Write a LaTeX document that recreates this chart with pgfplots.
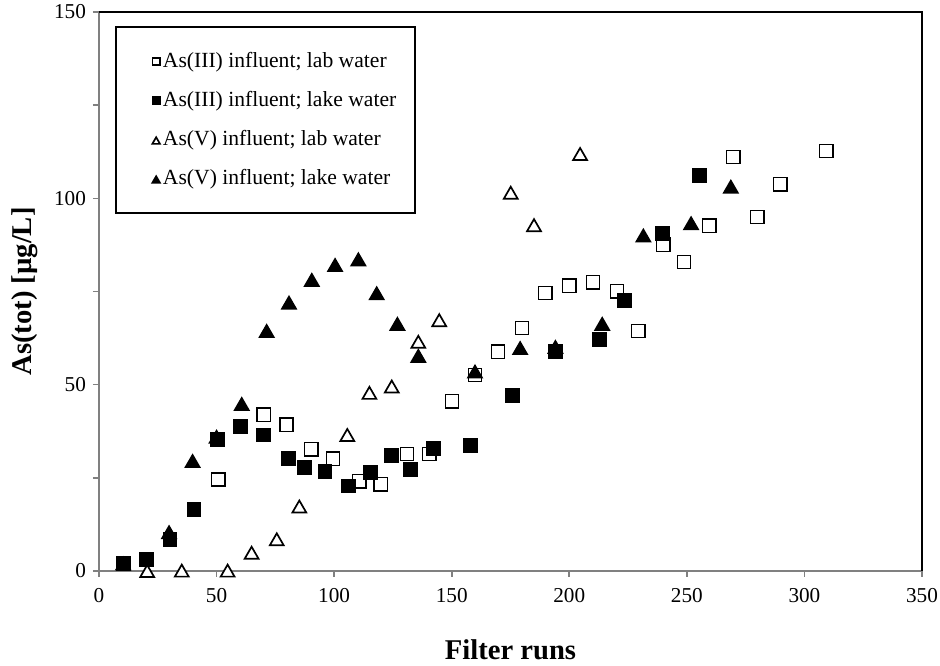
\documentclass[border=0pt]{standalone}
\usepackage{fontspec}
\setmainfont{Liberation Serif}
\usepackage{pgfplots}
\pgfplotsset{compat=1.18}
\begin{document}
\begin{tikzpicture}
\begin{axis}[
  scale only axis, width=411.5pt, height=279.5pt,
  xmin=0, xmax=350, ymin=0, ymax=150,
  xtick={0,50,...,350}, ytick={0,50,100,150},
  minor ytick={25,75,125},
  axis x line*=bottom, axis y line*=left,
  axis line style={draw=gray, line width=1.1pt},
  tick align=outside,
  major tick length=3pt, minor tick length=3pt,
  every tick/.style={draw=gray, line width=0.8pt},
  /pgf/number format/assume math mode=true,
  ticklabel style={font=\fontsize{10.6}{12}\selectfont},
  xticklabel style={yshift=-2pt},
  xlabel={Filter runs},
  ylabel={As(tot) [µg/L]},
  x label style={font=\fontsize{14.3}{16}\selectfont\bfseries, at={(axis description cs:0.5,0)}, anchor=center, yshift=-39.5pt},
  y label style={font=\fontsize{14.3}{16}\selectfont\bfseries, at={(axis description cs:-0.0899,0.5)}, anchor=center},
  clip=false,
  legend cell align=left,
  legend image code/.code={\path[draw=none,fill=none] (0pt,0pt) -- (12pt,0pt); \draw[#1] plot coordinates {(10.5pt,0pt)};},
  legend style={at={(rel axis cs:0.0194,0.975)}, anchor=north west, draw=black, line width=1.2pt,
    inner xsep=9.5pt, inner ysep=12pt, row sep=9pt, column sep=1.5pt,
    font=\fontsize{10.8}{12}\selectfont,
    nodes={inner sep=0pt, text height=8pt, text depth=2.5pt}},
]
\addplot[only marks, mark=square*, mark size=3.3pt, mark options={draw=black, fill=white, line width=0.85pt}, legend image post style={mark size=1.8pt}] coordinates {
(50.7,24.6) (70.1,41.9) (79.8,39.2) (90.2,32.7) (99.5,30.1) (110.6,24.1) (119.9,23.3) (131.0,31.4) (140.4,31.4) (150.1,45.6) (159.9,52.6) (169.7,58.8) (179.9,65.2) (189.7,74.6) (199.9,76.5) (210.1,77.5) (220.3,75.1) (229.3,64.4) (239.9,87.5) (248.8,82.9) (259.5,92.6) (269.7,111.1) (279.9,95.0) (289.7,103.8) (309.2,112.7)
};
\addlegendentry{As(III) influent; lab water}
\addplot[only marks, mark=square*, mark size=3.3pt, mark options={draw=black, fill=black, line width=0.85pt}, legend image post style={mark size=1.9pt}] coordinates {
(10.3,1.9) (20.3,3.1) (30.2,8.5) (40.4,16.6) (50.5,35.3) (60.0,38.7) (69.9,36.5) (80.5,30.1) (87.4,27.7) (96.1,26.6) (106,22.8) (115.3,26.4) (124.5,31.1) (132.3,27.3) (142.2,32.9) (157.8,33.6) (175.8,47.0) (194.1,58.9) (212.7,62.2) (223.4,72.7) (239.8,90.6) (255.2,106.2)
};
\addlegendentry{As(III) influent; lake water}
\addplot[only marks, mark=triangle*, mark size=4pt, mark options={draw=black, fill=white, line width=0.85pt, yshift=-1pt}, legend image post style={mark size=2.2pt}] coordinates {
(20.5,0) (35.2,0.1) (54.7,0.1) (64.9,4.9) (75.6,8.5) (85.2,17.3) (105.6,36.5) (115,47.8) (124.5,49.5) (135.8,61.5) (144.7,67.3) (175.1,101.5) (185,92.8) (204.6,111.9)
};
\addlegendentry{As(V) influent; lab water}
\addplot[only marks, mark=triangle*, mark size=4pt, mark options={draw=black, fill=black, line width=0.85pt, yshift=-1pt}, legend image post style={mark size=2.2pt}] coordinates {
(10.3,2.0) (29.8,10.4) (39.8,29.5) (50,36.0) (60.7,44.8) (71.3,64.4) (80.8,72.0) (90.5,78.1) (100.4,82.1) (110.3,83.6) (118.1,74.5) (126.9,66.3) (135.8,57.7) (159.9,53.5) (179.1,59.8) (194.1,60.1) (214,66.3) (231.5,90.0) (251.8,93.3) (268.7,103.1)
};
\addlegendentry{As(V) influent; lake water}
\draw[black, line width=1.3pt] (rel axis cs:0,1) -- (rel axis cs:1,1) -- (rel axis cs:1,0);
\coordinate (SW) at (rel axis cs:0,0);
\coordinate (NE) at (rel axis cs:1,1);
\end{axis}
\pgfresetboundingbox
\path[use as bounding box] ([shift={(-49.5pt,-47.5pt)}]SW) rectangle ([shift={(9pt,6pt)}]NE);
\end{tikzpicture}
\end{document}
